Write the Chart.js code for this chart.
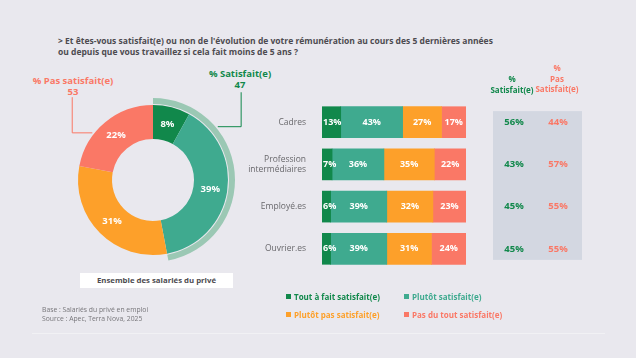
<!DOCTYPE html>
<html>
<head>
<meta charset="utf-8">
<script src="https://cdn.jsdelivr.net/npm/chart.js@4.4.0/dist/chart.umd.min.js"></script>
<style>
body { margin:0; width:636px; height:358px; background:#e9e8ee; font-family:'Open Sans', sans-serif; position:relative; overflow:hidden; }
.abs { position:absolute; white-space:nowrap; }
.title { left:58px; top:35px; font-size:8.5px; font-weight:700; color:#4d4b50; line-height:11px; }
.lbl { font-weight:700; font-size:9.5px; text-align:center; line-height:10.5px; }
.green { color:#11884b; }
.salmon { color:#fa7866; }
.box { left:80px; top:273px; width:153px; height:15px; background:#fff; font-size:7.8px; font-weight:700; color:#4d4b50; text-align:center; line-height:15px; }
.leg { font-size:8px; font-weight:700; }
.leg i { display:inline-block; width:5px; height:5px; margin-right:3px; vertical-align:1px; }
.base { left:42px; top:305px; font-size:6.8px; color:#77767a; line-height:9px; }
.rule { left:32px; top:333px; width:573px; height:1px; background:#f1f1f4; }
</style>
</head>
<body>
<div class="abs title">&gt; Et êtes-vous satisfait(e) ou non de l'évolution de votre rémunération au cours des 5 dernières années<br>ou depuis que vous travaillez si cela fait moins de 5 ans ?</div>

<div class="abs lbl salmon" style="left:23px;top:76px;width:100px">% Pas satisfait(e)<br><span id="pasTot"></span></div>
<div class="abs lbl green" style="left:190px;top:69px;width:100px">% Satisfait(e)<br><span id="satTot"></span></div>

<canvas id="donut" class="abs" style="left:40px;top:60px" width="226" height="240"></canvas>
<div class="abs box">Ensemble des salariés du privé</div>

<canvas id="bars" class="abs" style="left:240px;top:88px" width="360" height="195"></canvas>

<div class="abs lbl green" style="left:482px;top:74px;width:60px;font-size:8px">%<br>Satisfait(e)</div>
<div class="abs lbl salmon" style="left:527px;top:63px;width:60px;font-size:8px">%<br>Pas<br>Satisfait(e)</div>

<div class="abs leg" style="left:286px;top:291px;color:#11884b"><i style="background:#11884b"></i>Tout à fait satisfait(e)</div>
<div class="abs leg" style="left:404px;top:291px;color:#3faa8f"><i style="background:#3faa8f"></i>Plutôt satisfait(e)</div>
<div class="abs leg" style="left:286px;top:309px;color:#fda02a"><i style="background:#fda02a"></i>Plutôt pas satisfait(e)</div>
<div class="abs leg" style="left:404px;top:309px;color:#fa7866"><i style="background:#fa7866"></i>Pas du tout satisfait(e)</div>

<div class="abs base">Base : Salariés du privé en emploi<br>Source : Apec, Terra Nova, 2025</div>
<div class="abs rule"></div>

<script>
// donnees
const niveaux = ['Tout à fait satisfait(e)', 'Plutôt satisfait(e)', 'Plutôt pas satisfait(e)', 'Pas du tout satisfait(e)'];
const couleurs = ['#11884b', '#3faa8f', '#fda02a', '#fa7866'];
const ensemble = [8, 39, 31, 22];

const categories = [['Cadres'], ['Profession', 'intermédiaires'], ['Employé.es'], ['Ouvrier.es']];
const toutAFait = [13, 7, 6, 6];
const plutotSatisfait = [43, 36, 39, 39];
const plutotPas = [27, 35, 32, 31];
const pasDuTout = [17, 22, 23, 24];

const satTotal = ensemble[0] + ensemble[1];
const pasTotal = ensemble[2] + ensemble[3];
document.getElementById('satTot').textContent = satTotal;
document.getElementById('pasTot').textContent = pasTotal;

const FONT = "'Open Sans', sans-serif";

window.onload = function () {

const donutLabels = {
    id: 'donutLabels',
    afterDatasetsDraw(chart) {
        const ctx = chart.ctx;
        const meta = chart.getDatasetMeta(2);
        ctx.save();
        ctx.font = 'bold 9.5px ' + FONT;
        ctx.fillStyle = '#fff';
        ctx.textAlign = 'center';
        ctx.textBaseline = 'middle';
        meta.data.forEach((arc, i) => {
            const p = arc.tooltipPosition();
            ctx.fillText(ensemble[i] + '%', p.x, p.y);
        });
        // traits de rappel
        const ring = chart.getDatasetMeta(0).data[0];
        const cx = ring.x, cy = ring.y, r = ring.outerRadius;
        ctx.lineWidth = 1;
        ctx.strokeStyle = '#11884b';
        ctx.beginPath();
        ctx.moveTo(cx + r * 0.79, cy - r * 0.65);
        ctx.lineTo(cx + r * 1.075, cy - r * 0.65);
        ctx.lineTo(cx + r * 1.075, cy - r * 1.07);
        ctx.stroke();
        ctx.strokeStyle = '#fa7866';
        ctx.beginPath();
        ctx.moveTo(cx - r * 0.74, cy - r * 0.575);
        ctx.lineTo(cx - r * 0.985, cy - r * 0.575);
        ctx.lineTo(cx - r * 0.985, cy - r * 1.01);
        ctx.stroke();
        ctx.restore();
    }
};

new Chart(document.getElementById('donut').getContext('2d'), {
    type: 'doughnut',
    data: {
        labels: ['% Satisfait(e)', '% Pas satisfait(e)'],
        datasets: [
            { data: [satTotal, pasTotal], backgroundColor: ['#9bc8b4', 'rgba(0,0,0,0)'], borderWidth: 0, weight: 6 },
            { data: [1], backgroundColor: ['rgba(0,0,0,0)'], borderWidth: 0, weight: 1 },
            { data: ensemble, backgroundColor: couleurs, borderWidth: 0, weight: 34 }
        ]
    },
    options: {
        responsive: false,
        animation: false,
        radius: 82,
        cutout: '50%',
        layout: { padding: 0 },
        plugins: { legend: { display: false }, tooltip: { enabled: false } }
    },
    plugins: [donutLabels]
});

const barExtras = {
    id: 'barExtras',
    beforeDatasetsDraw(chart) {
        const ctx = chart.ctx;
        const area = chart.chartArea;
        ctx.save();
        ctx.fillStyle = '#d3d7e1';
        ctx.fillRect(area.right + 27, area.top + 10, 89, area.bottom - area.top - 20);
        ctx.restore();
    },
    afterDatasetsDraw(chart) {
        const ctx = chart.ctx;
        const area = chart.chartArea;
        const yScale = chart.scales.y;
        ctx.save();
        ctx.textAlign = 'center';
        ctx.textBaseline = 'middle';
        ctx.font = 'bold 9px ' + FONT;
        ctx.fillStyle = '#fff';
        chart.data.datasets.forEach((ds, d) => {
            chart.getDatasetMeta(d).data.forEach((bar, i) => {
                let x = (bar.x + bar.base) / 2;
                const w = ctx.measureText(ds.data[i] + '%').width;
                if (x - w / 2 < bar.base + 1) x = bar.base + 1 + w / 2;
                ctx.fillText(ds.data[i] + '%', x, bar.y);
            });
        });
        ctx.font = 'bold 9.5px ' + FONT;
        categories.forEach((c, i) => {
            const y = yScale.getPixelForValue(i);
            ctx.fillStyle = '#11884b';
            ctx.fillText((toutAFait[i] + plutotSatisfait[i]) + '%', area.right + 48, y);
            ctx.fillStyle = '#fa7866';
            ctx.fillText((plutotPas[i] + pasDuTout[i]) + '%', area.right + 92, y);
        });
        ctx.restore();
    }
};

const series = [toutAFait, plutotSatisfait, plutotPas, pasDuTout];

new Chart(document.getElementById('bars').getContext('2d'), {
    type: 'bar',
    data: {
        labels: categories,
        datasets: series.map((s, i) => ({
            label: niveaux[i],
            data: s,
            backgroundColor: couleurs[i],
            borderWidth: 0,
            barThickness: 31
        }))
    },
    options: {
        indexAxis: 'y',
        responsive: false,
        animation: false,
        layout: { padding: { left: 0, right: 134, top: 0, bottom: 0 } },
        plugins: { legend: { display: false }, tooltip: { enabled: false } },
        scales: {
            x: { stacked: true, min: 0, max: 100, display: false },
            y: {
                stacked: true,
                grid: { display: false },
                border: { display: false },
                ticks: { color: '#69686c', font: { family: FONT, size: 8.5 }, padding: 8 },
                afterFit(scale) { scale.width = 82; }
            }
        }
    },
    plugins: [barExtras]
});

};
</script>
</body>
</html>
